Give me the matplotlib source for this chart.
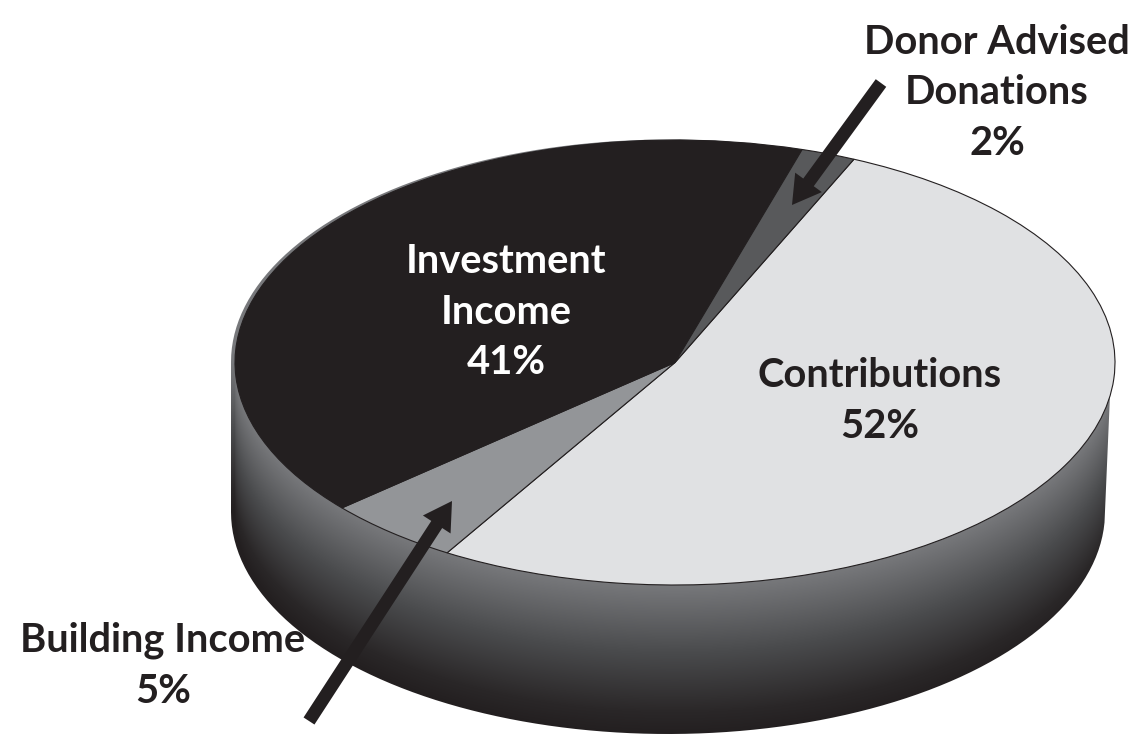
import numpy as np
import matplotlib
matplotlib.use("Agg")
import matplotlib.pyplot as plt
from matplotlib.colors import LinearSegmentedColormap
from matplotlib.patches import FancyArrow, PathPatch
from matplotlib.path import Path

categories = ["Contributions", "Building Income", "Investment Income", "Donor Advised Donations"]
shares = [52, 5, 41, 2]
slice_colors = ["#e0e1e3", "#939598", "#231f20", "#58595b"]

W, H = 1135, 734
INK = "#231f20"
plt.rcParams["font.family"] = ["Lato", "DejaVu Sans"]
fig = plt.figure(figsize=(W / 100, H / 100), dpi=100, facecolor="white")

# face ellipse in pixels
cx, cy, a, b = 675.0, 362.5, 440.0, 222.5

# ---- side wall with offset gradient
bg = fig.add_axes([0, 0, 1, 1], zorder=1)
bg.set_xlim(0, W); bg.set_ylim(H, 0); bg.axis("off")
xx, yy = np.meshgrid(np.arange(W) + .5, np.arange(H) + .5)
u = np.clip((xx - cx) / a, -1, 1)
ytop = cy + b * np.sqrt(1 - u ** 2)
t = np.clip((yy - ytop) / 150.0, 0, 1)
cmap = LinearSegmentedColormap.from_list("wall", [(0, "#77787b"), (.45, "#4a4b4d"), (.85, "#2a2728"), (1, INK)])
im = bg.imshow(t, cmap=cmap, vmin=0, vmax=1, extent=(0, W, H, 0), aspect="auto", interpolation="bilinear")
th1 = np.linspace(np.pi, 0, 200)
top_edge = np.c_[669 + 438 * np.cos(th1), 362 - 222.5 * np.sin(th1)]
th2 = np.linspace(0, -np.pi, 200)
bottom_edge = np.c_[668 + 437 * np.cos(th2), 512 - 222 * np.sin(th2)]
verts = np.vstack([top_edge, [[1110, 395]], bottom_edge, top_edge[:1]])
clip = PathPatch(Path(verts), transform=bg.transData, fc="none", ec="none")
bg.add_patch(clip)
im.set_clip_path(clip)

# ---- top face
ax = fig.add_axes([(cx - a) / W, 1 - (cy + b) / H, 2 * a / W, 2 * b / H], zorder=2)
ax.pie(shares, colors=slice_colors, startangle=66, counterclock=False, radius=1,
       wedgeprops=dict(edgecolor=INK, linewidth=0.8), normalize=True)
ax.set_aspect("auto")
ax.set_xlim(-1, 1); ax.set_ylim(-1, 1)
for w in ax.patches:
    w.set_clip_on(False)

# ---- annotations
fg = fig.add_axes([0, 0, 1, 1], zorder=3)
fg.set_xlim(0, W); fg.set_ylim(H, 0); fg.axis("off"); fg.patch.set_alpha(0)

def arrow(x0, y0, x1, y1):
    fg.add_patch(FancyArrow(x0, y0, x1 - x0, y1 - y0, width=13, head_width=33, head_length=28,
                            length_includes_head=True, fc=INK, ec="none"))

arrow(881, 83, 792, 205)
arrow(309, 721, 452, 501)

fs = 28.7
kw = dict(ha="center", va="center", fontsize=fs, fontweight="bold", linespacing=1.46, multialignment="center")
fg.text(997, 93, "Donor Advised\nDonations\n2%", color=INK, **kw)
fg.text(506, 312, "Investment\nIncome\n41%", color="white", **kw)
fg.text(880, 401, "Contributions\n52%", color=INK, **kw)
fg.text(163, 666, "Building Income\n5%", color=INK, **kw)

fig.savefig("out.png", dpi=100)
